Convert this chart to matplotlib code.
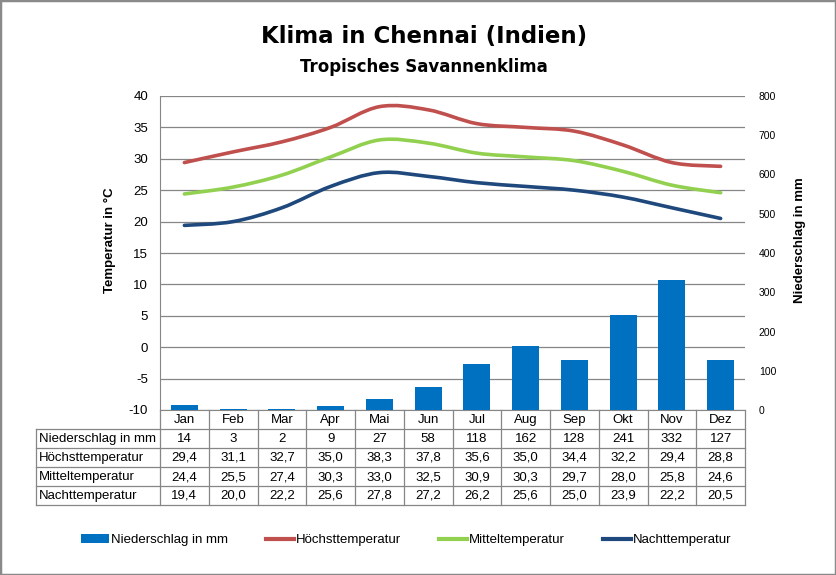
import matplotlib
matplotlib.use('Agg')
import matplotlib.pyplot as plt
from matplotlib.path import Path
from matplotlib.patches import PathPatch, Rectangle, Patch
from matplotlib.lines import Line2D
from matplotlib.transforms import Affine2D, blended_transform_factory
import numpy as np

plt.rcParams['font.family'] = ['Liberation Sans', 'DejaVu Sans']
plt.rcParams['axes.unicode_minus'] = False

months = ["Jan", "Feb", "Mar", "Apr", "Mai", "Jun", "Jul", "Aug", "Sep", "Okt", "Nov", "Dez"]
precip = [14, 3, 2, 9, 27, 58, 118, 162, 128, 241, 332, 127]
tmax = [29.4, 31.1, 32.7, 35.0, 38.3, 37.8, 35.6, 35.0, 34.4, 32.2, 29.4, 28.8]
tmean = [24.4, 25.5, 27.4, 30.3, 33.0, 32.5, 30.9, 30.3, 29.7, 28.0, 25.8, 24.6]
tmin = [19.4, 20.0, 22.2, 25.6, 27.8, 27.2, 26.2, 25.6, 25.0, 23.9, 22.2, 20.5]
row_labels = ["Niederschlag in mm", "Höchsttemperatur", "Mitteltemperatur", "Nachttemperatur"]

title = "Klima in Chennai (Indien)"
subtitle = "Tropisches Savannenklima"
ylabel_left = "Temperatur in °C"
ylabel_right = "Niederschlag in mm"

C_BAR = '#0070C0'
C_MAX = '#C0504D'
C_MEAN = '#92D050'
C_MIN = '#1F497D'
GRID = '#868686'

W, H = 836, 575
fig = plt.figure(figsize=(W / 100, H / 100), dpi=100)
px = Affine2D().scale(1 / W, -1 / H).translate(0, 1) + fig.transFigure

L, R, T, B = 160, 745, 96, 410
ax = fig.add_axes([L / W, (H - B) / H, (R - L) / W, (B - T) / H])
ax.set_xlim(-0.5, 11.5)
ax.set_ylim(-10, 40)
ax.set_yticks(range(-10, 41, 5))
ax.set_xticks([])
ax.yaxis.grid(True, color=GRID, lw=0.9)
ax.set_axisbelow(True)
for s in ['top', 'right']:
    ax.spines[s].set_visible(False)
ax.spines['left'].set_color(GRID)
ax.spines['bottom'].set_color(GRID)
ax.tick_params(axis='y', length=0, pad=8.5, labelsize=9.5)

x = np.arange(len(months))

ax2 = ax.twinx()
ax2.set_ylim(0, 800)
ax2.set_yticks(range(0, 801, 100))
for s in ax2.spines.values():
    s.set_visible(False)
ax2.tick_params(axis='y', length=0, pad=10, labelsize=7.5)
ax2.bar(x, precip, width=0.55, color=C_BAR)

ax3 = ax.twinx()
ax3.set_ylim(-10, 40)
ax3.set_xlim(-0.5, 11.5)
ax3.axis('off')

ax.set_zorder(1)
ax2.set_zorder(2)
ax3.set_zorder(3)
ax2.patch.set_visible(False)
ax3.patch.set_visible(False)


def smooth_path(xs, ys):
    pts = np.column_stack([xs, ys]).astype(float)
    n = len(pts)
    verts = [pts[0]]
    codes = [Path.MOVETO]
    for i in range(n - 1):
        p0 = pts[i - 1] if i > 0 else pts[i]
        p1 = pts[i]
        p2 = pts[i + 1]
        p3 = pts[i + 2] if i + 2 < n else pts[i + 1]
        verts += [p1 + (p2 - p0) / 6, p2 - (p3 - p1) / 6, p2]
        codes += [Path.CURVE4] * 3
    return Path(verts, codes)


for series, col in [(tmax, C_MAX), (tmean, C_MEAN), (tmin, C_MIN)]:
    ax3.add_patch(PathPatch(smooth_path(x, series), fill=False, edgecolor=col,
                            lw=2.6, capstyle='round', joinstyle='round'))

# table
bt = blended_transform_factory(ax.transData, px)
row_edges = [410, 429, 448, 467, 486, 505]
for yy in row_edges[1:]:
    fig.add_artist(Line2D([36, 745], [yy, yy], transform=px, color=GRID, lw=0.9))
for k in range(len(months) + 1):
    fig.add_artist(Line2D([k - 0.5, k - 0.5], [410, 505], transform=bt, color=GRID, lw=0.9))
fig.add_artist(Line2D([36, 36], [429, 505], transform=px, color=GRID, lw=0.9))

fs = 9.5
for i, m in enumerate(months):
    fig.text(i, (row_edges[0] + row_edges[1]) / 2 + 0.5, m, transform=bt,
             ha='center', va='center', fontsize=fs)


def fmt(v):
    return f"{v:.1f}".replace('.', ',')


rows = [[str(v) for v in precip], [fmt(v) for v in tmax],
        [fmt(v) for v in tmean], [fmt(v) for v in tmin]]
for r, (lab, vals) in enumerate(zip(row_labels, rows)):
    yc = (row_edges[r + 1] + row_edges[r + 2]) / 2 + 0.5
    fig.text(39, yc, lab, transform=px, ha='left', va='center', fontsize=fs)
    for i, v in enumerate(vals):
        fig.text(i, yc, v, transform=bt, ha='center', va='center', fontsize=fs)

# titles and axis labels
fig.text(424, 43.5, title, transform=px, ha='center', va='baseline',
         fontsize=16.5, fontweight='bold', family=['DejaVu Sans'])
fig.text(424, 72.3, subtitle, transform=px, ha='center', va='baseline',
         fontsize=12, fontweight='bold', family=['DejaVu Sans'])
fig.text(110, 240, ylabel_left, transform=px, ha='center', va='center',
         rotation=90, fontsize=9.5, fontweight='bold')
fig.text(800, 240, ylabel_right, transform=px, ha='center', va='center',
         rotation=90, fontsize=9.5, fontweight='bold')

# legend
handles = [Patch(facecolor=C_BAR, edgecolor='none'),
           Line2D([], [], color=C_MAX, lw=3),
           Line2D([], [], color=C_MEAN, lw=3),
           Line2D([], [], color=C_MIN, lw=3)]
labels = [row_labels[0], row_labels[1], row_labels[2], row_labels[3]]
fig.legend(handles, labels, loc='center', bbox_to_anchor=(406 / W, 1 - 540 / H),
           ncol=4, frameon=False, fontsize=9.5, handlelength=2.1,
           handletextpad=0.15, columnspacing=2.9, handleheight=0.6)

fig.add_artist(Rectangle((0, 0), 1, 1, transform=fig.transFigure, fill=False,
                         edgecolor='#8a8a8a', lw=2.5))

fig.savefig('out.png', dpi=100)
